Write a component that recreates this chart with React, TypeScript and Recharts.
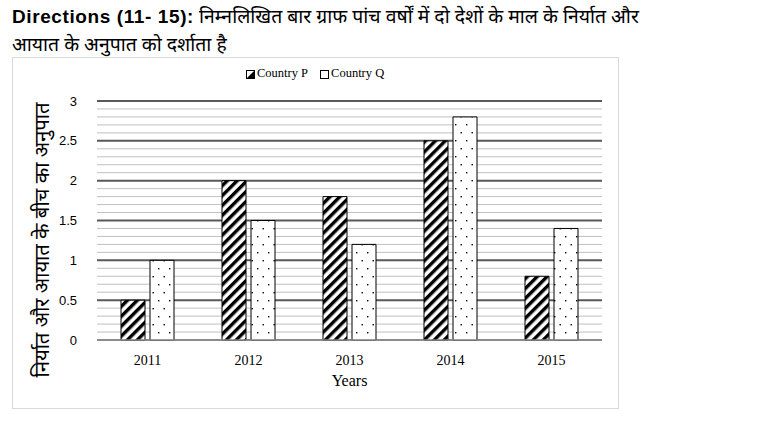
import { BarChart, Bar, XAxis, YAxis, CartesianGrid } from 'recharts'

const years = ['2011', '2012', '2013', '2014', '2015']
const countryP = [0.5, 2, 1.8, 2.5, 0.8]
const countryQ = [1, 1.5, 1.2, 2.8, 1.4]
const majorTicks = [0, 0.5, 1, 1.5, 2, 2.5, 3]
const minorTicks = [
  0.1, 0.2, 0.3, 0.4, 0.6, 0.7, 0.8, 0.9, 1.1, 1.2, 1.3, 1.4, 1.6, 1.7, 1.8, 1.9,
  2.1, 2.2, 2.3, 2.4, 2.6, 2.7, 2.8, 2.9,
]

const data = years.map((year, i) => ({ year, p: countryP[i], q: countryQ[i] }))

const hindiFont = '"Noto Sans Devanagari", "Noto Sans", "Lohit Devanagari", sans-serif'

// plot area geometry inside the chart svg
const PLOT_TOP = 44
const PLOT_H = 239

function Swatch({ id }: { id: string }) {
  return (
    <svg width={9} height={9} style={{ verticalAlign: 'middle', marginRight: 2 }}>
      <rect x={0.5} y={0.5} width={8} height={8} fill={`url(#${id})`} stroke="#000" />
    </svg>
  )
}

export default function App() {
  return (
    <div style={{ position: 'absolute', left: 0, top: 0, width: 760, height: 427, background: '#fff' }}>
      {/* heading */}
      <div style={{ position: 'absolute', left: 12, top: 3, fontSize: 19.4, lineHeight: '28px', fontFamily: hindiFont, color: '#000' }}>
        <span style={{ fontFamily: '"Liberation Sans", sans-serif', fontWeight: 'bold', fontSize: 19, letterSpacing: 0.6 }}>
          Directions (11- 15):
        </span>{' '}
        निम्नलिखित बार ग्राफ पांच वर्षों में दो देशों के माल के निर्यात और
        <br />
        आयात के अनुपात को दर्शाता है
      </div>

      {/* chart frame */}
      <div style={{ position: 'absolute', left: 12, top: 57, width: 605, height: 350, border: '1px solid #d9d9d9' }} />

      {/* legend */}
      <div style={{ position: 'absolute', left: 246, top: 66, fontFamily: '"Liberation Serif", serif', fontSize: 12.5, color: '#000', whiteSpace: 'nowrap' }}>
        <Swatch id="legP" />Country P
        <span style={{ display: 'inline-block', width: 12 }} />
        <Swatch id="legQ" />Country Q
      </div>

      {/* y axis title */}
      <div
        style={{
          position: 'absolute',
          left: 44,
          top: 240,
          transform: 'translate(-50%, -50%) rotate(-90deg)',
          whiteSpace: 'nowrap',
          fontFamily: hindiFont,
          fontSize: 20.2,
          color: '#000',
        }}
      >
        निर्यात और आयात के बीच का अनुपात
      </div>

      <div style={{ position: 'absolute', left: 12, top: 57 }}>
        <BarChart
          width={606}
          height={351}
          data={data}
          margin={{ top: PLOT_TOP, right: 16, left: 25, bottom: 38 }}
          barSize={24}
          barGap={5}
        >
          <defs>
            <pattern id="stripes" width="7" height="7" patternUnits="userSpaceOnUse" patternTransform="rotate(45)">
              <rect width="7" height="7" fill="#fff" />
              <rect width="3.4" height="7" fill="#000" />
            </pattern>
            <pattern id="dots" width="11" height="16" patternUnits="userSpaceOnUse">
              <rect width="11" height="16" fill="#fff" />
              <rect x="3" y="3" width="1.4" height="1.4" fill="#000" />
              <rect x="8.5" y="11" width="1.4" height="1.4" fill="#000" />
            </pattern>
            <pattern id="legP" width="9" height="9" patternUnits="userSpaceOnUse">
              <rect width="9" height="9" fill="#fff" />
              <path d="M0 9 L9 0 L9 9 Z" fill="#000" />
            </pattern>
            <pattern id="legQ" width="9" height="9" patternUnits="userSpaceOnUse">
              <rect width="9" height="9" fill="#fff" />
            </pattern>
          </defs>
          <CartesianGrid
            vertical={false}
            stroke="#c0c0c0"
            strokeWidth={1}
            horizontalCoordinatesGenerator={() => minorTicks.map(t => PLOT_TOP + PLOT_H * (1 - t / 3))}
          />
          <CartesianGrid vertical={false} stroke="#595959" strokeWidth={2} />
          <XAxis
            dataKey="year"
            tickLine={false}
            axisLine={{ stroke: '#bfbfbf' }}
            height={30}
            tick={{ fill: '#000', fontSize: 14, fontFamily: '"Liberation Serif", serif' }}
            tickMargin={9}
            label={{ value: 'Years', position: 'insideBottom', offset: -16, fill: '#000', fontSize: 16, fontFamily: '"Liberation Serif", serif' }}
          />
          <YAxis
            domain={[0, 3]}
            ticks={majorTicks}
            width={60}
            tickLine={false}
            axisLine={false}
            tickMargin={14}
            tick={{ fill: '#000', fontSize: 13, fontFamily: '"Liberation Sans", sans-serif' }}
          />
          <Bar dataKey="p" name="Country P" fill="url(#stripes)" stroke="#000" strokeWidth={1} isAnimationActive={false} />
          <Bar dataKey="q" name="Country Q" fill="url(#dots)" stroke="#000" strokeWidth={1} isAnimationActive={false} />
        </BarChart>
      </div>
    </div>
  )
}
